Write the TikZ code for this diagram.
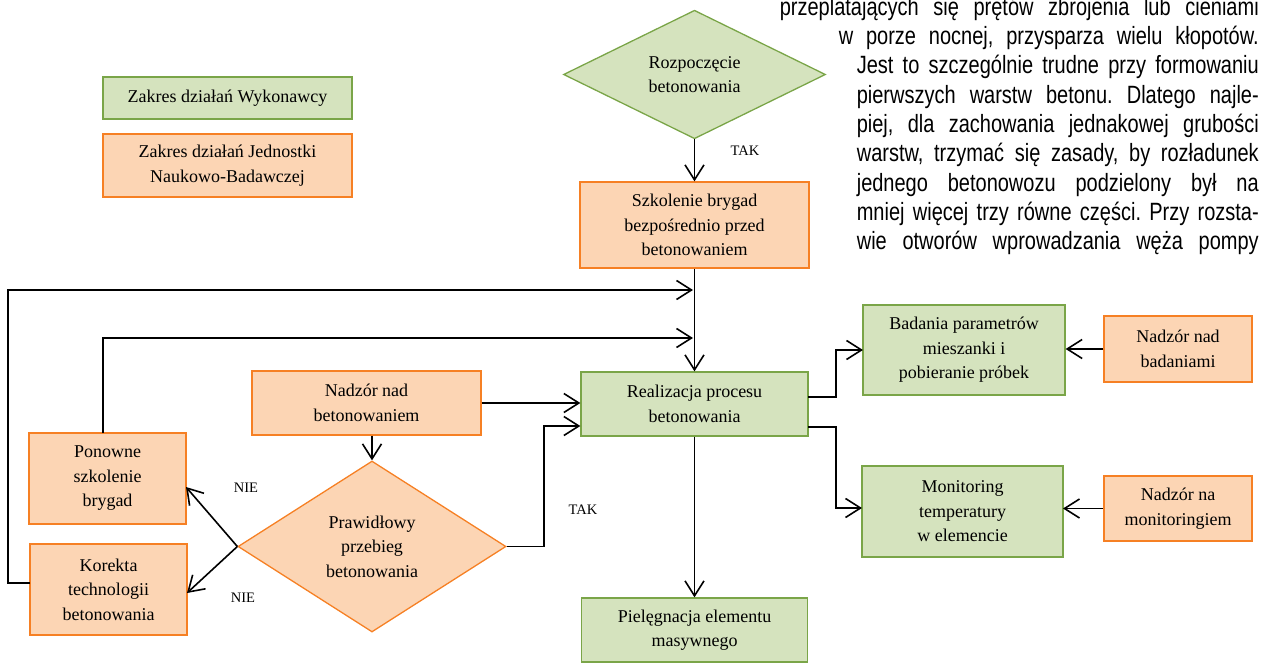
\documentclass[tikz,border=0pt]{standalone}
\usepackage{fontspec}
\setmainfont{Liberation Serif}
\newfontfamily\parafont[FakeStretch=0.8]{Liberation Sans}
\usetikzlibrary{shapes.geometric,arrows.meta}
\definecolor{gfill}{RGB}{213,227,190}
\definecolor{gdraw}{RGB}{122,165,72}
\definecolor{ofill}{RGB}{252,213,180}
\definecolor{odraw}{RGB}{246,128,36}
\begin{document}
\frenchspacing
\begin{tikzpicture}[x=1pt,y=-1pt,
  box/.style={rectangle, inner sep=0pt, align=center, font=\fontsize{18}{24.5}\selectfont, line width=1.3pt},
  gbox/.style={box, fill=gfill, draw=gdraw},
  obox/.style={box, fill=ofill, draw=odraw},
  dia/.style={diamond, inner sep=0pt, align=center, font=\fontsize{18}{24.5}\selectfont, line width=1.3pt},
  conn/.style={line width=1.6pt, -{Straight Barb[length=15pt,width=19pt]}},
  lbl/.style={font=\fontsize{14.5}{17}\selectfont, inner sep=0pt},
  para/.style={anchor=base east, inner sep=0pt, font=\parafont\fontsize{25}{29}\selectfont},
]
\useasboundingbox (0,0) rectangle (1261,671);

% paragraph text
\node[para] (p1) at (1259,16) {\makebox[479pt][s]{przeplatających się prętów zbrojenia lub cieniami}};
\node[para] (p2) at (1259,45) {\makebox[420pt][s]{w porze nocnej, przysparza wielu kłopotów.}};
\node[para] (p3) at (1259,74) {\makebox[402pt][s]{Jest to szczególnie trudne przy formowaniu}};
\node[para] (p4) at (1259,103.3) {\makebox[402pt][s]{pierwszych warstw betonu. Dlatego najle-}};
\node[para] (p5) at (1259,132.6) {\makebox[402pt][s]{piej, dla zachowania jednakowej grubości}};
\node[para] (p6) at (1259,162) {\makebox[402pt][s]{warstw, trzymać się zasady, by rozładunek}};
\node[para] (p7) at (1259,191.3) {\makebox[402pt][s]{jednego betonowozu podzielony był na}};
\node[para] (p8) at (1259,220.6) {\makebox[402pt][s]{mniej więcej trzy równe części. Przy rozsta-}};
\node[para] (p9) at (1259,250) {\makebox[402pt][s]{wie otworów wprowadzania węża pompy}};

% legend
\node[gbox, minimum width=249pt, minimum height=42pt] (leg1) at (227.5,98) {Zakres działań Wykonawcy};
\node[obox, minimum width=249pt, minimum height=63pt] (leg2) at (227.5,165.5) {Zakres działań Jednostki\\Naukowo-Badawczej};

% nodes
\node[dia, fill=gfill, draw=gdraw, minimum width=262pt, minimum height=121pt] (start) at (694.5,74.5) {Rozpoczęcie\\betonowania};
\node[obox, minimum width=229pt, minimum height=86pt] (szk) at (694.5,225) {Szkolenie brygad\\bezpośrednio przed\\betonowaniem};
\node[gbox, minimum width=227pt, minimum height=64pt] (real) at (694.5,404) {Realizacja procesu\\betonowania};
\node[obox, minimum width=229pt, minimum height=64pt] (nadz) at (366.5,403) {Nadzór nad\\betonowaniem};
\node[obox, minimum width=157pt, minimum height=91pt] (pon) at (107.5,478.5) {Ponowne\\szkolenie\\brygad};
\node[obox, minimum width=157pt, minimum height=91pt] (kor) at (108.5,589.5) {Korekta\\technologii\\betonowania};
\node[dia, fill=ofill, draw=odraw, minimum width=268pt, minimum height=171pt] (d2) at (372,546.5) {Prawidłowy\\przebieg\\betonowania};
\node[gbox, minimum width=226pt, minimum height=64pt] (piel) at (694.5,630) {Pielęgnacja elementu\\masywnego};
\node[gbox, minimum width=202pt, minimum height=90pt] (bad) at (964,350) {Badania parametrów\\mieszanki i\\pobieranie próbek};
\node[obox, minimum width=148pt, minimum height=66pt] (nbad) at (1178,349) {Nadzór nad\\badaniami};
\node[gbox, minimum width=201pt, minimum height=91pt] (mon) at (962.5,511.5) {Monitoring\\temperatury\\w elemencie};
\node[obox, minimum width=148pt, minimum height=65pt] (nmon) at (1178,508.5) {Nadzór na\\monitoringiem};

% labels
\node[lbl] (tak1) at (745,151) {TAK};
\node[lbl] (tak2) at (583,510) {TAK};
\node[lbl] (nie1) at (246,488) {NIE};
\node[lbl] (nie2) at (243,598) {NIE};

% helper coordinates
\coordinate (fb1s) at (30,583);
\coordinate (fb1c) at (8,290);
\coordinate (fb1e) at (693,290);
\coordinate (fb2s) at (103,433);
\coordinate (fb2e) at (693,338);
\coordinate (tk) at (544,426);
\coordinate (rb1) at (808,397);
\coordinate (rb2) at (808,427);
\coordinate (el1) at (836,397);
\coordinate (el2) at (836,427);
\coordinate (bin) at (863,350);
\coordinate (min) at (862,508);
\coordinate (monin) at (1063,508.5);
\coordinate (ponin) at (186,487);
\coordinate (korin) at (187,593);

% connectors
\draw[conn] (start.south) -- (szk.north);
\draw[conn] (szk.south) -- (real.north);
\draw[conn] (fb1s) -| (fb1c) -- (fb1e);
\draw[conn] (fb2s) |- (fb2e);
\draw[conn] (nadz.east) -- (nadz.east -| real.west);
\draw[conn] (d2.east) -| (tk) -- (tk -| real.west);
\draw[conn] (d2.north |- nadz.south) -- (d2.north);
\draw[conn] (d2.west) -- (ponin);
\draw[conn] (d2.west) -- (korin);
\draw[conn] (real.south) -- (piel.north);
\draw[conn] (rb1) -- (el1) |- (bin);
\draw[conn] (rb2) -- (el2) |- (min);
\draw[conn] (nbad.west) -- (nbad.west -| bad.east);
\draw[conn] (nmon.west) -- (monin);
\end{tikzpicture}
\end{document}
